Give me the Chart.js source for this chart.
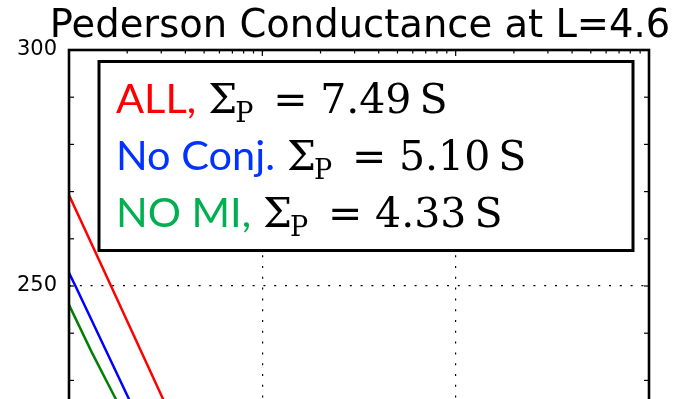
<!DOCTYPE html>
<html>
<head>
<meta charset="utf-8">
<script src="https://cdn.jsdelivr.net/npm/chart.js@4"></script>
<style>
html,body{margin:0;padding:0;background:#fff;overflow:hidden;}
#wrap{width:678px;height:560px;position:relative;}
</style>
</head>
<body>
<div id="wrap"><canvas id="grafico"></canvas></div>
<script>

const titulo = 'Pederson Conductance at L=4.6';

// one entry per run
const nomes = ['ALL,', 'No Conj.', 'NO MI,'];
const coresLinha = ['#ff0000', '#0000ff', '#008000'];
const coresTexto = ['#ff0000', '#0033ff', '#00b050'];
const sigmaP = [7.49, 5.10, 4.33];

// Pedersen conductivity (S/m) against altitude (km)
const condAll = [1e-6, 1.65e-6, 3.15e-6];
const altAll = [269.3, 250, 225];

const condNoConj = [1e-6, 1.08e-6, 2.10e-6];
const altNoConj = [252.8, 250, 225];

const condNoMI = [1e-6, 1.31e-6, 1.80e-6];
const altNoMI = [246.0, 236, 225];

// axes
const xMin = 1e-6;
const xMax = 1e-3;
const yMin = 200;
const yMax = 300;
const yPasso = 10;
const yRotulos = [250, 300];

function pontos(xs, ys){
return xs.map((x, i) => ({x: x, y: ys[i]}));
}

function ehDecada(v){
const l = Math.log10(v);
return Math.abs(l - Math.round(l)) < 1e-6;
}

function linha(ctx, x1, y1, x2, y2){
ctx.beginPath();
ctx.moveTo(x1, y1);
ctx.lineTo(x2, y2);
ctx.stroke();
}

// frame, inward ticks, title and the text box
const moldura = {

id: 'moldura',

afterDraw(chart){

const ctx = chart.ctx;
const a = chart.chartArea;
const sx = chart.scales.x;
const sy = chart.scales.y;

ctx.save();
ctx.strokeStyle = '#000';
ctx.lineWidth = 1.2;

for(let v = yMin; v <= yMax; v += yPasso){
const y = sy.getPixelForValue(v);
linha(ctx, a.left, y, a.left + 5, y);
linha(ctx, a.right, y, a.right - 5, y);
}

for(let d = Math.log10(xMin); d < Math.log10(xMax); d++){
for(let k = 1; k <= 9; k++){
const v = k * Math.pow(10, d);
const x = sx.getPixelForValue(v);
const len = k === 1 ? 6 : 3.5;
linha(ctx, x, a.top, x, a.top + len);
linha(ctx, x, a.bottom, x, a.bottom - len);
}
}

ctx.lineWidth = 2.6;
ctx.strokeRect(a.left, a.top, a.right - a.left, a.bottom - a.top);

// title
ctx.fillStyle = '#000';
ctx.font = '38.5px "DejaVu Sans"';
ctx.textAlign = 'center';
ctx.textBaseline = 'alphabetic';
ctx.fillText(titulo, (a.left + a.right) / 2 + 1, 37);

// text box
ctx.fillStyle = '#fff';
ctx.fillRect(99, 61.5, 534, 189);
ctx.lineWidth = 3;
ctx.strokeRect(99, 61.5, 534, 189);

const bases = [113, 170, 227];
ctx.textAlign = 'left';

nomes.forEach((nome, i) => {

const y = bases[i];
let x = 116;

ctx.font = '41.5px Lato';
ctx.fillStyle = coresTexto[i];
ctx.fillText(nome, x, y);
x += ctx.measureText(nome).width + 12;

ctx.fillStyle = '#000';
ctx.font = '41px "DejaVu Serif"';
ctx.fillText('\u03A3', x, y);
ctx.font = '27px "DejaVu Serif"';
ctx.fillText('P', x + 27, y + 9);
ctx.font = '41px "DejaVu Serif"';
ctx.fillText('=', x + 65, y);

const num = sigmaP[i].toFixed(2);
ctx.fillText(num, x + 112, y);
const w = ctx.measureText(num).width;
ctx.fillText('S', x + 112 + w + 8, y);

});

ctx.restore();

}

};

const ctx = document.getElementById('grafico');

new Chart(ctx, {

type: 'line',

data: {

datasets: [
{
label: nomes[0],
data: pontos(condAll, altAll),
borderColor: coresLinha[0],
borderWidth: 2.5,
pointRadius: 0,
tension: 0,
fill: false
},
{
label: nomes[1],
data: pontos(condNoConj, altNoConj),
borderColor: coresLinha[1],
borderWidth: 2.5,
pointRadius: 0,
tension: 0,
fill: false
},
{
label: nomes[2],
data: pontos(condNoMI, altNoMI),
borderColor: coresLinha[2],
borderWidth: 2.5,
pointRadius: 0,
tension: 0,
fill: false
}
]

},

options: {

responsive: true,
maintainAspectRatio: false,
animation: false,

layout: {
padding: {top: 50, right: 29, bottom: 0, left: 0}
},

plugins: {
legend: {display: false},
title: {display: false},
tooltip: {enabled: false}
},

scales: {

x: {
type: 'logarithmic',
position: 'bottom',
min: xMin,
max: xMax,
afterFit: (s) => { s.height = 38; },
ticks: {display: false},
border: {display: false, dash: [2, 8.8]},
grid: {
drawTicks: false,
lineWidth: 1.2,
color: (c) => (c.tick && ehDecada(c.tick.value)) ? '#000' : 'rgba(0,0,0,0)'
}
},

y: {
type: 'linear',
min: yMin,
max: yMax,
afterFit: (s) => { s.width = 69; },
ticks: {
stepSize: yPasso,
padding: 12,
color: '#000',
font: {family: '"DejaVu Sans"', size: 21},
callback: (v) => yRotulos.includes(v) ? String(v) : ''
},
border: {display: false, dash: [2, 8.8]},
grid: {
drawTicks: false,
lineWidth: 1.2,
color: (c) => (c.tick && yRotulos.includes(c.tick.value)) ? '#000' : 'rgba(0,0,0,0)'
}
}

}

},

plugins: [moldura]

});

</script>
</body>
</html>
